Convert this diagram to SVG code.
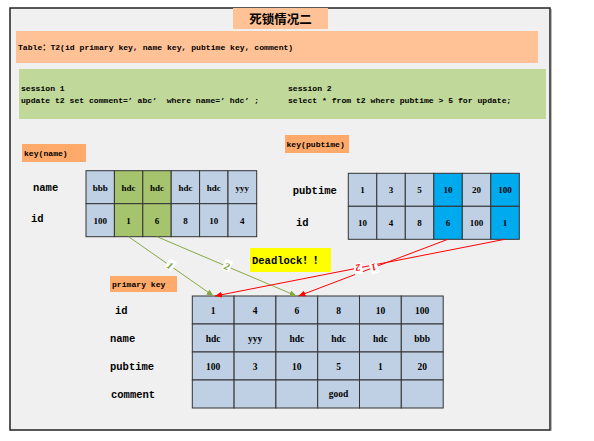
<svg xmlns="http://www.w3.org/2000/svg" width="594" height="441" viewBox="0 0 594 441">
<defs>
<style>
.lbl{font-family:"Liberation Mono","Noto Sans CJK SC",monospace;font-weight:bold;font-size:8.1px;fill:#000}
.row{font-family:"Liberation Mono","Noto Sans CJK SC",monospace;font-weight:bold;font-size:10.5px;fill:#000}
.cell{font-family:"Liberation Serif","Noto Sans CJK SC",serif;font-weight:bold;font-size:9px;fill:#000;text-anchor:middle}
.pcell{font-family:"Liberation Serif","Noto Sans CJK SC",serif;font-weight:bold;font-size:9.5px;fill:#000;text-anchor:middle}
.c{fill:#bfd0e4;stroke:#333;stroke-width:1}
.cg{fill:#a6c46e;stroke:#333;stroke-width:1}
.cb{fill:#00aaee;stroke:#333;stroke-width:1}
.peach{fill:#ffc196}
.orange{fill:#ffa96b}
.gline{stroke:#86a843;stroke-width:1;fill:none}
.rline{stroke:#ff0000;stroke-width:1;fill:none}
.gnum{font-family:"Liberation Serif",serif;font-weight:bold;font-style:italic;font-size:10px;fill:#76a030;text-anchor:middle}
.rnum{font-family:"Liberation Serif",serif;font-weight:bold;font-style:italic;font-size:10px;fill:#ff0000;text-anchor:middle}
</style>
<marker id="ag" markerUnits="userSpaceOnUse" markerWidth="8" markerHeight="6" refX="7" refY="3" orient="auto"><path d="M0,0 L7,3 L0,6 Z" fill="#86a843"/></marker>
<marker id="ar" markerUnits="userSpaceOnUse" markerWidth="8" markerHeight="6" refX="7" refY="3" orient="auto"><path d="M0,0 L7,3 L0,6 Z" fill="#ff0000"/></marker>
</defs>
<rect x="0" y="0" width="594" height="441" fill="#ffffff"/>
<g id="frame">
<rect x="10" y="8" width="540" height="422" fill="#f0f0f0" stroke="#222" stroke-width="1.5"/>
<line x1="551.5" y1="9" x2="551.5" y2="431" stroke="#bbb" stroke-width="1"/>
</g>
<g id="title">
<rect class="peach" x="233" y="8" width="95" height="21"/>
<text x="280.5" y="23.5" text-anchor="middle" style="font-family:'Noto Sans CJK SC',sans-serif;font-weight:bold;font-size:12.5px">死锁情况二</text>
</g>
<g id="table-def">
<rect class="peach" x="16" y="31" width="522" height="32"/>
<text class="lbl" x="18" y="50">Table：T2(id primary key, name key, pubtime key, comment)</text>
</g>
<g id="sessions">
<rect x="19" y="69" width="527" height="50" fill="#c0d89a"/>
<text class="lbl" x="21" y="91">session 1</text>
<text class="lbl" x="21" y="102.5" xml:space="preserve">update t2 set comment=’ abc’  where name=’ hdc’ ;</text>
<text class="lbl" x="288" y="91">session 2</text>
<text class="lbl" x="288" y="102.5">select * from t2 where pubtime &gt; 5 for update;</text>
</g>
<g id="key-name">
<rect class="orange" x="22" y="144" width="64" height="18"/>
<text class="lbl" x="24" y="155.5">key(name)</text>
<text class="row" x="33" y="190.5">name</text>
<text class="row" x="31" y="222">id</text>
<rect class="c" x="86" y="170.7" width="28.4" height="33"/>
<rect class="cg" x="114.4" y="170.7" width="28.4" height="33"/>
<rect class="cg" x="142.8" y="170.7" width="28.4" height="33"/>
<rect class="c" x="171.2" y="170.7" width="28.4" height="33"/>
<rect class="c" x="199.6" y="170.7" width="28.4" height="33"/>
<rect class="c" x="228" y="170.7" width="28.7" height="33"/>
<rect class="c" x="86" y="203.7" width="28.4" height="33"/>
<rect class="cg" x="114.4" y="203.7" width="28.4" height="33"/>
<rect class="cg" x="142.8" y="203.7" width="28.4" height="33"/>
<rect class="c" x="171.2" y="203.7" width="28.4" height="33"/>
<rect class="c" x="199.6" y="203.7" width="28.4" height="33"/>
<rect class="c" x="228" y="203.7" width="28.7" height="33"/>
<text class="cell" x="100.2" y="190.5">bbb</text>
<text class="cell" x="128.6" y="190.5">hdc</text>
<text class="cell" x="157" y="190.5">hdc</text>
<text class="cell" x="185.4" y="190.5">hdc</text>
<text class="cell" x="213.8" y="190.5">hdc</text>
<text class="cell" x="242.3" y="190.5">yyy</text>
<text class="cell" x="100.2" y="223.5">100</text>
<text class="cell" x="128.6" y="223.5">1</text>
<text class="cell" x="157" y="223.5">6</text>
<text class="cell" x="185.4" y="223.5">8</text>
<text class="cell" x="213.8" y="223.5">10</text>
<text class="cell" x="242.3" y="223.5">4</text>
</g>
<g id="key-pubtime">
<rect class="orange" x="285" y="135" width="64" height="18"/>
<text class="lbl" x="286.5" y="147">key(pubtime)</text>
<text class="row" x="292.7" y="194">pubtime</text>
<text class="row" x="296" y="225.5">id</text>
<rect class="c" x="348.3" y="173.3" width="28.5" height="33"/>
<rect class="c" x="376.8" y="173.3" width="28.5" height="33"/>
<rect class="c" x="405.3" y="173.3" width="28.5" height="33"/>
<rect class="cb" x="433.8" y="173.3" width="28.5" height="33"/>
<rect class="c" x="462.3" y="173.3" width="28.5" height="33"/>
<rect class="cb" x="490.8" y="173.3" width="28.5" height="33"/>
<rect class="c" x="348.3" y="206.3" width="28.5" height="33"/>
<rect class="c" x="376.8" y="206.3" width="28.5" height="33"/>
<rect class="c" x="405.3" y="206.3" width="28.5" height="33"/>
<rect class="cb" x="433.8" y="206.3" width="28.5" height="33"/>
<rect class="c" x="462.3" y="206.3" width="28.5" height="33"/>
<rect class="cb" x="490.8" y="206.3" width="28.5" height="33"/>
<text class="cell" x="362.5" y="193">1</text>
<text class="cell" x="391" y="193">3</text>
<text class="cell" x="419.5" y="193">5</text>
<text class="cell" x="448" y="193">10</text>
<text class="cell" x="476.5" y="193">20</text>
<text class="cell" x="505" y="193">100</text>
<text class="cell" x="362.5" y="226">10</text>
<text class="cell" x="391" y="226">4</text>
<text class="cell" x="419.5" y="226">8</text>
<text class="cell" x="448" y="226">6</text>
<text class="cell" x="476.5" y="226">100</text>
<text class="cell" x="505" y="226">1</text>
</g>
<g id="deadlock">
<rect x="250" y="248" width="81" height="24" fill="#ffff00"/>
<text x="252" y="264" style="font-family:'Liberation Mono','Noto Sans CJK SC',monospace;font-weight:bold;font-size:10.5px">Deadlock！！</text>
</g>
<g id="primary-key">
<rect class="orange" x="110" y="276" width="67" height="16"/>
<text class="lbl" x="112" y="286.5">primary key</text>
<text class="row" x="115" y="314">id</text>
<text class="row" x="110" y="341.5">name</text>
<text class="row" x="110" y="370">pubtime</text>
<text class="row" x="111" y="398">comment</text>
<g>
<rect class="c" x="192.3" y="296" width="41.8" height="28"/>
<rect class="c" x="234.1" y="296" width="41.8" height="28"/>
<rect class="c" x="275.9" y="296" width="41.8" height="28"/>
<rect class="c" x="317.7" y="296" width="41.8" height="28"/>
<rect class="c" x="359.5" y="296" width="41.8" height="28"/>
<rect class="c" x="401.3" y="296" width="41.9" height="28"/>
<rect class="c" x="192.3" y="324" width="41.8" height="28"/>
<rect class="c" x="234.1" y="324" width="41.8" height="28"/>
<rect class="c" x="275.9" y="324" width="41.8" height="28"/>
<rect class="c" x="317.7" y="324" width="41.8" height="28"/>
<rect class="c" x="359.5" y="324" width="41.8" height="28"/>
<rect class="c" x="401.3" y="324" width="41.9" height="28"/>
<rect class="c" x="192.3" y="352" width="41.8" height="28"/>
<rect class="c" x="234.1" y="352" width="41.8" height="28"/>
<rect class="c" x="275.9" y="352" width="41.8" height="28"/>
<rect class="c" x="317.7" y="352" width="41.8" height="28"/>
<rect class="c" x="359.5" y="352" width="41.8" height="28"/>
<rect class="c" x="401.3" y="352" width="41.9" height="28"/>
<rect class="c" x="192.3" y="380" width="41.8" height="28"/>
<rect class="c" x="234.1" y="380" width="41.8" height="28"/>
<rect class="c" x="275.9" y="380" width="41.8" height="28"/>
<rect class="c" x="317.7" y="380" width="41.8" height="28"/>
<rect class="c" x="359.5" y="380" width="41.8" height="28"/>
<rect class="c" x="401.3" y="380" width="41.9" height="28"/>
</g>
<text class="pcell" x="213.2" y="313.5">1</text>
<text class="pcell" x="255" y="313.5">4</text>
<text class="pcell" x="296.8" y="313.5">6</text>
<text class="pcell" x="338.6" y="313.5">8</text>
<text class="pcell" x="380.4" y="313.5">10</text>
<text class="pcell" x="422.2" y="313.5">100</text>
<text class="pcell" x="213.2" y="341.5">hdc</text>
<text class="pcell" x="255" y="341.5">yyy</text>
<text class="pcell" x="296.8" y="341.5">hdc</text>
<text class="pcell" x="338.6" y="341.5">hdc</text>
<text class="pcell" x="380.4" y="341.5">hdc</text>
<text class="pcell" x="422.2" y="341.5">bbb</text>
<text class="pcell" x="213.2" y="369.5">100</text>
<text class="pcell" x="255" y="369.5">3</text>
<text class="pcell" x="296.8" y="369.5">10</text>
<text class="pcell" x="338.6" y="369.5">5</text>
<text class="pcell" x="380.4" y="369.5">1</text>
<text class="pcell" x="422.2" y="369.5">20</text>
<text class="pcell" x="338.6" y="397">good</text>
</g>
<g id="connectors">
<line class="gline" x1="128.6" y1="236.7" x2="213.5" y2="296" marker-end="url(#ag)"/>
<line class="gline" x1="157" y1="236.7" x2="296.5" y2="296" marker-end="url(#ag)"/>
<line class="rline" x1="447.9" y1="239.3" x2="298.5" y2="296" marker-end="url(#ar)"/>
<line class="rline" x1="504.9" y1="239.3" x2="215" y2="296" marker-end="url(#ar)"/>
<g transform="translate(170,265.5) rotate(34.4)"><rect x="-4" y="-6.5" width="8" height="11" fill="#fff"/><text class="gnum" x="0" y="3.5">1</text></g>
<g transform="translate(227,266.3) rotate(22.8)"><rect x="-4" y="-6.5" width="8" height="11" fill="#fff"/><text class="gnum" x="0" y="3.5">2</text></g>
<g transform="translate(358,268) rotate(168.9)"><rect x="-4" y="-6.5" width="8" height="11" fill="#fff"/><text class="rnum" x="0" y="3.5">2</text></g>
<g transform="translate(374,267.3) rotate(159.2)"><rect x="-4" y="-6.5" width="8" height="11" fill="#fff"/><text class="rnum" x="0" y="3.5">1</text></g>
</g>
</svg>
